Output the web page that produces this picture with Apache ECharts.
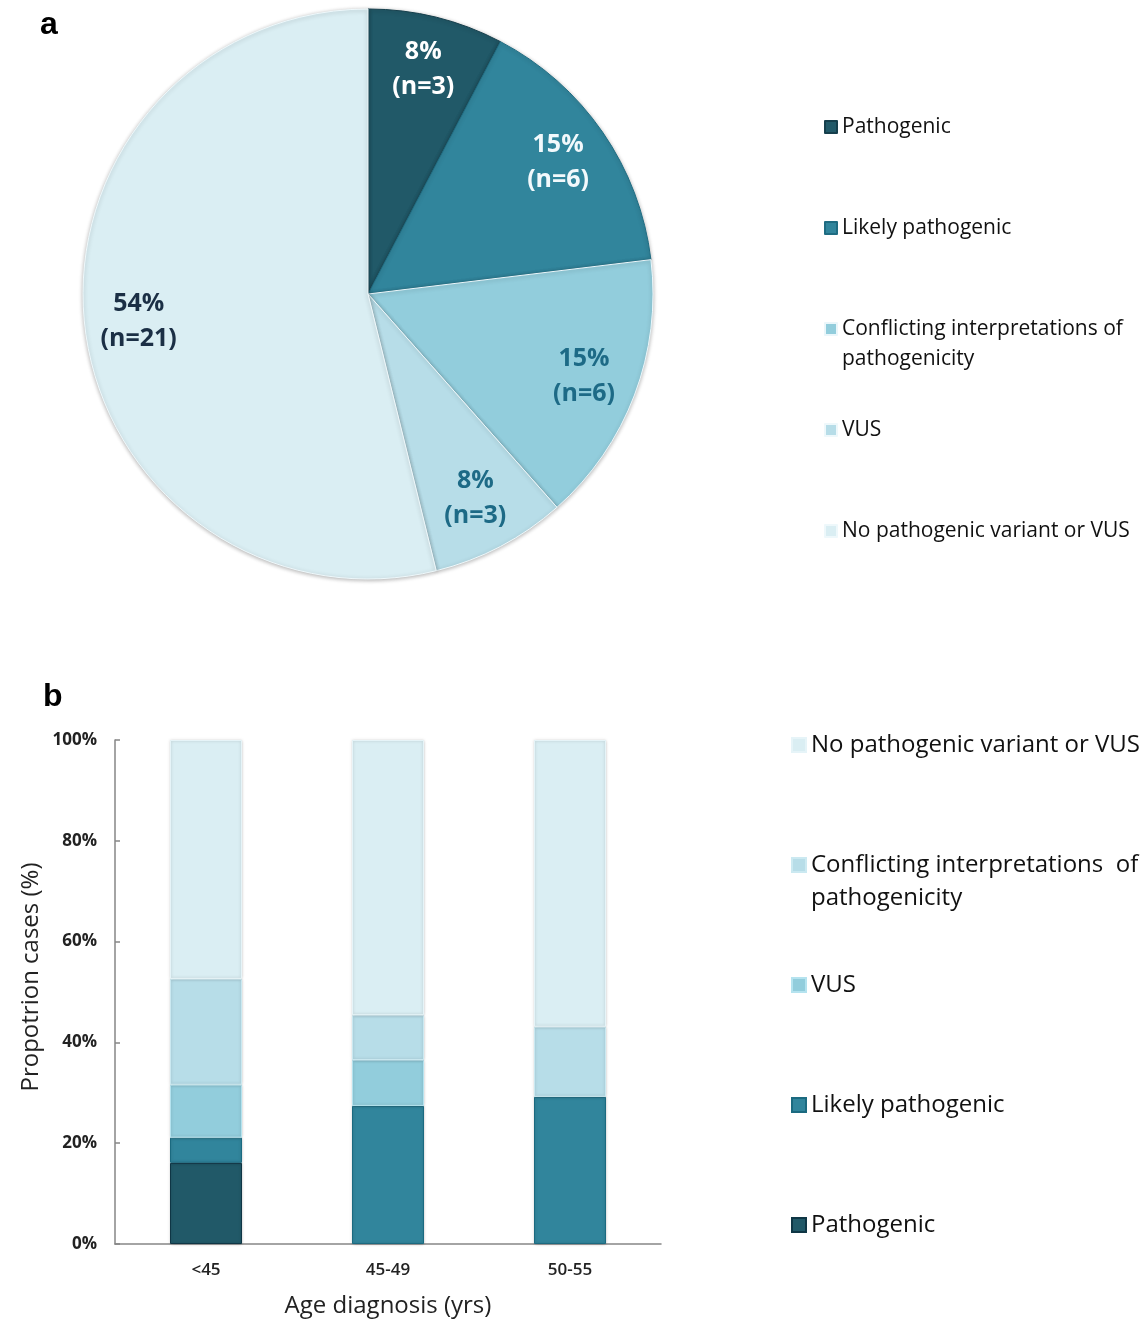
<!DOCTYPE html>
<html>
<head>
<meta charset="utf-8">
<script src="https://cdn.jsdelivr.net/npm/echarts@6/dist/echarts.min.js"></script>
<style>
  html, body { margin: 0; padding: 0; background: #fff; }
  .panel { position: absolute; left: 0; top: 0; width: 1146px; height: 1321px; }
</style>
</head>
<body>
<div id="pie" class="panel"></div>
<div id="bar" class="panel"></div>
<script>
// ---- Panel a: variant classification of all cases (counts) ----
const pieNames = ['Pathogenic', 'Likely pathogenic', 'Conflicting interpretations of pathogenicity', 'VUS', 'No pathogenic variant or VUS'];
const pieCounts = [3, 6, 6, 3, 21];
const pieColors = ['#215968', '#31859C', '#92CDDC', '#B7DDE8', '#DAEEF3'];
const pieBorders = ['#163f4c', '#1f6c82', '#eaf6fa', '#eef8fb', '#eef8fb'];
const pieLabelColors = ['#ffffff', '#f2f9fc', '#1d6a86', '#1d6a86', '#1b2f45'];

// ---- Panel b: classification by age at diagnosis (% of cases) ----
const ageGroups = ['<45', '45-49', '50-55'];
const pctPathogenic = [16.1, 0, 0];
const pctLikely = [5.0, 27.4, 29.2];
const pctVUS = [10.5, 9.1, 0];
const pctConflicting = [21.0, 8.9, 13.9];
const pctNone = [47.4, 54.6, 56.9];
const yTicks = [0, 20, 40, 60, 80, 100];

const FONT = '"Open Sans", "Noto Sans", sans-serif';

// ------------------------------------------------------------------
const pieChart = echarts.init(document.getElementById('pie'), null, { renderer: 'canvas' });
const total = pieCounts.reduce((a, b) => a + b, 0);
const pieData = pieNames.map((n, i) => ({
  name: n,
  value: pieCounts[i],
  itemStyle: { color: pieColors[i], borderColor: pieBorders[i], borderWidth: 1 }
}));
const pieLabelData = pieNames.map((n, i) => ({
  name: n,
  value: pieCounts[i],
  label: { color: pieLabelColors[i] }
}));

const CX = 368, CY = 294, R = 285;

// Legend entry; two-line entries get a blank leading line so that the
// swatch sits beside the first line of text.
function legendEntry(name, left, centerY, size, fontSize, lh, twoLine, text) {
  const lines = twoLine ? 3 : 1;
  return {
    data: [name],
    orient: 'vertical',
    left: left,
    top: centerY - lines * lh / 2,
    padding: 0,
    itemWidth: size,
    itemHeight: size,
    icon: 'rect',
    selectedMode: false,
    formatter: twoLine ? () => ' \n' + text : '{name}',
    textStyle: { fontFamily: FONT, fontSize: fontSize, color: '#111', lineHeight: lh }
  };
}

pieChart.setOption({
  animation: false,
  title: {
    text: 'a', left: 35, top: 4,
    textStyle: { fontFamily: 'Liberation Sans, Arial, sans-serif', fontWeight: 'bold', fontSize: 32, color: '#000' }
  },
  legend: [
    legendEntry(pieNames[0], 824, 127, 12, 21, 30),
    legendEntry(pieNames[1], 824, 228, 12, 21, 30),
    legendEntry(pieNames[2], 824, 329, 12, 21, 30, true, 'Conflicting interpretations of\npathogenicity'),
    legendEntry(pieNames[3], 824, 430, 12, 21, 30),
    legendEntry(pieNames[4], 824, 531, 12, 21, 30)
  ],
  series: [
    {
      type: 'pie',
      center: [CX, CY],
      radius: [0, R],
      startAngle: 90,
      clockwise: true,
      silent: true,
      label: { show: false },
      labelLine: { show: false },
      itemStyle: { shadowBlur: 4, shadowColor: 'rgba(0,0,0,0.3)', shadowOffsetY: 1 },
      data: pieData
    },
    {
      // ring used only to place the slice labels near the rim
      type: 'pie',
      center: [CX, CY],
      radius: [R * 0.6, R],
      startAngle: 90,
      clockwise: true,
      silent: true,
      itemStyle: { color: 'rgba(0,0,0,0)', borderWidth: 0 },
      labelLine: { show: false },
      label: {
        show: true,
        position: 'inside',
        fontFamily: FONT,
        fontWeight: 'bold',
        fontSize: 25,
        lineHeight: 35,
        formatter: p => Math.round(p.value / total * 100) + '%\n(n=' + p.value + ')'
      },
      data: pieLabelData
    }
  ]
});

// ------------------------------------------------------------------
const barChart = echarts.init(document.getElementById('bar'), null, { renderer: 'canvas' });

const barColors = {
  'Pathogenic': ['#215968', '#0f3645'],
  'Likely pathogenic': ['#31859C', '#1b6a80'],
  'VUS': ['#92CDDC', '#b5e3ef'],
  'Conflicting interpretations of pathogenicity': ['#B7DDE8', '#cbe9f1'],
  'No pathogenic variant or VUS': ['#DAEEF3', '#e6f4f8']
};
const barSeriesDefs = [
  ['Pathogenic', pctPathogenic],
  ['Likely pathogenic', pctLikely],
  ['VUS', pctVUS],
  ['Conflicting interpretations of pathogenicity', pctConflicting],
  ['No pathogenic variant or VUS', pctNone]
];

barChart.setOption({
  animation: false,
  title: {
    text: 'b', left: 38, top: 676,
    textStyle: { fontFamily: 'Liberation Sans, Arial, sans-serif', fontWeight: 'bold', fontSize: 32, color: '#000' }
  },
  legend: [
    legendEntry('No pathogenic variant or VUS', 791, 745, 14, 24, 33),
    legendEntry('Conflicting interpretations of pathogenicity', 791, 865, 14, 24, 33, true, 'Conflicting interpretations  of\npathogenicity'),
    legendEntry('VUS', 791, 985, 14, 24, 33),
    legendEntry('Likely pathogenic', 791, 1105, 14, 24, 33),
    legendEntry('Pathogenic', 791, 1225, 14, 24, 33)
  ],
  grid: { left: 115, top: 740, width: 546, height: 504, containLabel: false, outerBoundsMode: 'none' },
  xAxis: {
    type: 'category',
    data: ageGroups,
    name: 'Age diagnosis (yrs)',
    nameLocation: 'middle',
    nameGap: 50,
    nameTextStyle: { fontFamily: FONT, fontSize: 24, color: '#222' },
    axisLine: { lineStyle: { color: '#868686', width: 1.5 } },
    axisTick: { show: false },
    axisLabel: { fontFamily: FONT, fontSize: 17, fontWeight: 600, color: '#222', margin: 18 }
  },
  yAxis: {
    type: 'value',
    min: yTicks[0],
    max: yTicks[yTicks.length - 1],
    interval: yTicks[1] - yTicks[0],
    name: 'Propotrion cases (%)',
    nameLocation: 'middle',
    nameGap: 69,
    nameTextStyle: { fontFamily: FONT, fontSize: 24, color: '#222', lineHeight: 30, padding: [0, 0, 0, 30] },
    axisLine: { show: true, lineStyle: { color: '#868686', width: 1.5 } },
    axisTick: { show: true, inside: true, length: 5, lineStyle: { color: '#868686', width: 1.5 } },
    splitLine: { show: false },
    axisLabel: { fontFamily: FONT, fontSize: 17, fontWeight: 'bold', color: '#222', margin: 18, formatter: '{value}%' }
  },
  series: barSeriesDefs.map(([name, vals]) => ({
    type: 'bar',
    name: name,
    stack: 'cases',
    barWidth: 72,
    silent: true,
    itemStyle: {
      color: barColors[name][0],
      borderColor: barColors[name][1],
      borderWidth: 1,
      shadowBlur: 3,
      shadowColor: 'rgba(0,0,0,0.22)'
    },
    data: vals.map(v => (v === 0 ? '-' : v))
  }))
});
</script>
</body>
</html>
